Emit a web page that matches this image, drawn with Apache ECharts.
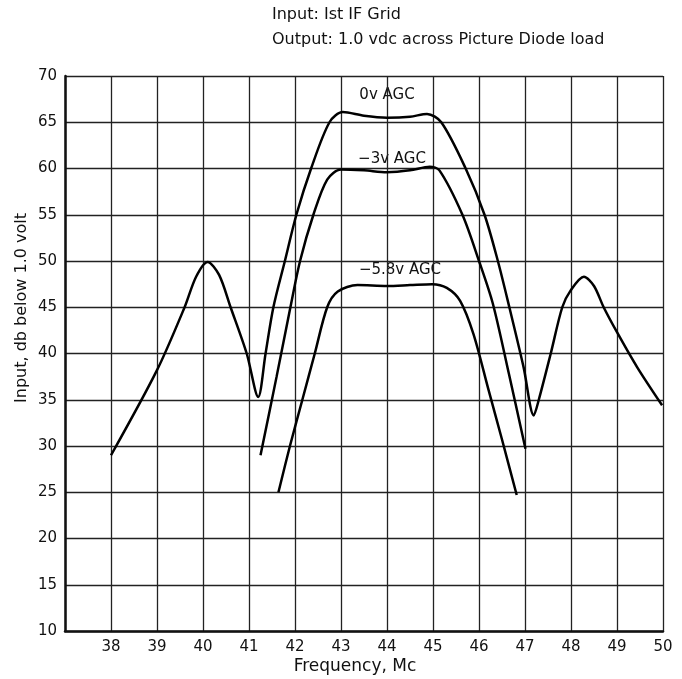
<!DOCTYPE html>
<html>
<head>
<meta charset="utf-8">
<script src="https://cdn.jsdelivr.net/npm/echarts@6/dist/echarts.min.js"></script>
<style>
  html, body { margin: 0; padding: 0; background: #fff; }
  #main { width: 682px; height: 679px; }
</style>
</head>
<body>
<div id="main"></div>
<script>
// frequency (Mc), input (db below 1.0 volt)
var agc0 = [
    [38, 29], [39, 38.2], [39.6, 45], [39.85, 48.3], [40.1, 49.9], [40.35, 48.5],
    [40.6, 45], [40.95, 40], [41.2, 35.3], [41.36, 40], [41.53, 45], [41.78, 50],
    [42.03, 55], [42.35, 60], [42.75, 65], [43.04, 66.1], [43.5, 65.7], [44.0, 65.5],
    [44.5, 65.6], [44.87, 65.9], [45.18, 65], [45.71, 60], [46.12, 55], [46.41, 50],
    [46.65, 45.2], [46.97, 38.5], [47.19, 33.3], [47.3, 35], [47.56, 40], [47.81, 45],
    [47.99, 46.8], [48.28, 48.3], [48.5, 47.3], [48.71, 45], [49.0, 42.3], [49.44, 38.5],
    [49.98, 34.4]
];
var agc3 = [
    [41.25, 29], [41.6, 37.5], [41.9, 45], [42.11, 50], [42.4, 55], [42.7, 58.8],
    [43.0, 59.9], [43.5, 59.8], [44.0, 59.6], [44.5, 59.8], [44.93, 60.2], [45.14, 59.8],
    [45.64, 55], [46.0, 50], [46.3, 45.4], [46.65, 37.8], [47.01, 29.7]
];
var agc58 = [
    [41.64, 25], [41.89, 30], [42.16, 35], [42.43, 40], [42.7, 45], [42.93, 46.7],
    [43.36, 47.4], [44.0, 47.3], [44.5, 47.4], [44.98, 47.5], [45.3, 47.1], [45.59, 45.7],
    [45.88, 42.1], [46.2, 36.2], [46.5, 30.7], [46.82, 24.7]
];
var curveNames = ['0v AGC', '-3v AGC', '-5.8v AGC'];
var curveLabels = ['0v AGC', '\u22123v AGC', '\u22125.8v AGC'];

var font = 'DejaVu Sans';
var myChart = echarts.init(document.getElementById('main'));

function txt(x, y, s, size, extra) {
    var el = {
        type: 'text', x: x, y: y,
        style: { text: s, font: size + 'px "DejaVu Sans"', fill: '#111', align: 'center', verticalAlign: 'middle' }
    };
    if (extra) {
        for (var k in extra) el[k] = extra[k];
    }
    return el;
}

var option = {
    backgroundColor: '#fff',
    animation: false,
    grid: {
        left: 65,
        right: 19,
        top: 76,
        bottom: 48
    },
    xAxis: {
        type: 'value',
        min: 37,
        max: 50,
        interval: 1,
        axisLine: { lineStyle: { color: '#111', width: 2.5 } },
        axisTick: { show: false },
        axisLabel: {
            margin: 9,
            color: '#111',
            fontFamily: font,
            fontSize: 15,
            formatter: function (v) { return v === 37 ? '' : v; }
        },
        splitLine: { lineStyle: { color: '#222', width: 1.3 } }
    },
    yAxis: {
        type: 'value',
        min: 10,
        max: 70,
        interval: 5,
        axisLine: { show: true, lineStyle: { color: '#111', width: 2.5 } },
        axisTick: { show: false },
        axisLabel: {
            margin: 8,
            color: '#111',
            fontFamily: font,
            fontSize: 15
        },
        splitLine: { lineStyle: { color: '#222', width: 1.3 } }
    },
    graphic: [
        { type: 'text', left: 272, top: 7, style: { text: 'Input: Ist IF Grid', font: '16px "DejaVu Sans"', fill: '#111' } },
        { type: 'text', left: 272, top: 32, style: { text: 'Output: 1.0 vdc across Picture Diode load', font: '16px "DejaVu Sans"', fill: '#111' } },
        txt(22, 308, 'Input, db below 1.0 volt', 16, { rotation: Math.PI / 2 }),
        txt(355, 667, 'Frequency, Mc', 17),
        txt(387, 95, curveLabels[0], 15),
        txt(392, 159, curveLabels[1], 15),
        txt(400, 270, curveLabels[2], 15)
    ],
    series: [
        {
            name: curveNames[0],
            type: 'line',
            data: agc0,
            smooth: 0.3,
            showSymbol: false,
            lineStyle: { color: '#000', width: 2.5 }
        },
        {
            name: curveNames[1],
            type: 'line',
            data: agc3,
            smooth: 0.3,
            showSymbol: false,
            lineStyle: { color: '#000', width: 2.5 }
        },
        {
            name: curveNames[2],
            type: 'line',
            data: agc58,
            smooth: 0.3,
            showSymbol: false,
            lineStyle: { color: '#000', width: 2.5 }
        }
    ]
};

myChart.setOption(option);
</script>
</body>
</html>
